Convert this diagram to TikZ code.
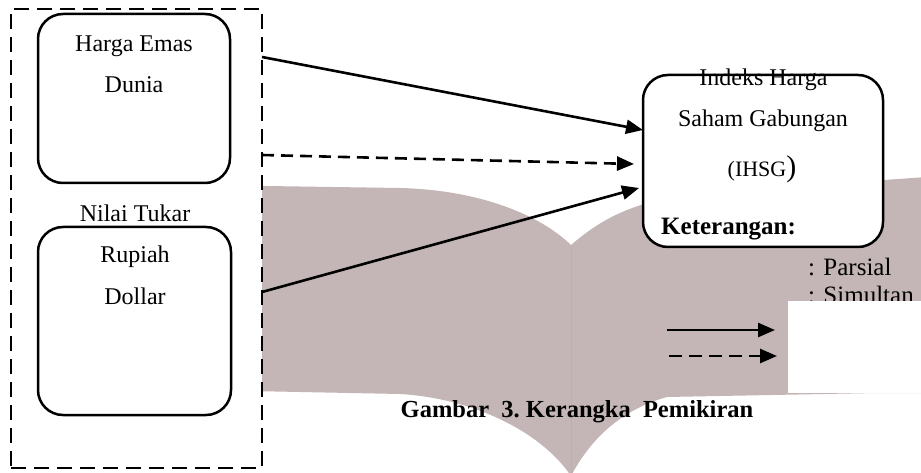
\documentclass[tikz,border=0pt]{standalone}
\usepackage{fontspec}
\setmainfont{Liberation Serif}
\usetikzlibrary{arrows.meta}
\definecolor{bookgrey}{RGB}{196,182,182}
\definecolor{spinegrey}{RGB}{190,176,176}
\begin{document}
\begin{tikzpicture}[x=1pt,y=-1pt,
  box/.style={draw, line width=2.5pt, rounded corners=25pt, fill=white, inner sep=0pt},
  txt/.style={inner sep=0pt, font=\fontsize{24}{28}\selectfont},
  boldtxt/.style={inner sep=0pt, font=\fontsize{25}{29}\selectfont\bfseries},
  conn/.style={line width=2.6pt, -{Triangle[length=17pt,width=14pt]}},
  dashconn/.style={conn, dash pattern=on 12pt off 7pt},
]
\useasboundingbox (0,0) rectangle (921,473);
% watermark book
\fill[bookgrey] (200,185) -- (400,188) .. controls (480,190) and (540,215) .. (571,245)
  .. controls (600,220) and (630,203) .. (690,194) -- (940,176) -- (940,393) -- (877,393)
  -- (667,397) .. controls (620,410) and (590,440) .. (571,476)
  .. controls (540,430) and (470,398) .. (400,394) -- (200,390) -- cycle;
\draw[spinegrey, line width=1pt] (571,246) -- (571,473);
% left group
\node[draw, line width=2.6pt, dash pattern=on 15pt off 8pt, fill=white,
  minimum width=251pt, minimum height=459pt, inner sep=0pt] (group) at (136.5,238.5) {};
\node[box, minimum width=192pt, minimum height=169pt] (emas) at (134,98.5) {};
\node[txt, anchor=base] (emas1) at (134,52) {Harga Emas};
\node[txt, anchor=base] (emas2) at (134,93) {Dunia};
\node[txt, anchor=base] (nilai) at (135,222) {Nilai Tukar};
\node[box, minimum width=193pt, minimum height=188pt] (kurs) at (134.5,321) {};
\node[txt, anchor=base] (kurs1) at (135,262) {Rupiah};
\node[txt, anchor=base] (kurs2) at (135,304) {Dollar};
% IHSG box
\node[box, minimum width=240pt, minimum height=172pt] (ihsg) at (763,161) {};
\node[txt, anchor=base] (ihsg1) at (763.5,86) {Indeks Harga};
\node[txt, anchor=base] (ihsg2) at (763,127) {Saham Gabungan};
\node[txt, anchor=base] (ihsg3) at (762,177) {{\fontsize{22}{24}\selectfont (IHSG}{\fontsize{30}{32}\selectfont )}};
\node[boldtxt, anchor=base west] (ket) at (661,235) {Keterangan:};
% connectors
\coordinate (s1) at (262,57);
\coordinate (s2) at (262,155);
\coordinate (s3) at (262,292);
\coordinate (t1) at (643,130);
\coordinate (t2) at (634,164);
\coordinate (t3) at (639,188);
\draw[conn] (s1) -- (t1);
\draw[dashconn] (s2) -- (t2);
\draw[conn] (s3) -- (t3);
% legend
\node[inner sep=0pt, font=\fontsize{25}{29}\selectfont, anchor=base west] (parsial) at (808,275) {: Parsial};
\node[inner sep=0pt, font=\fontsize{25}{29}\selectfont, anchor=base west] (simultan) at (808,303) {: Simultan};
\fill[white] (788,301) rectangle (925,393);
\coordinate (l1a) at (667,330);
\coordinate (l1b) at (775,330);
\coordinate (l2a) at (669,356);
\coordinate (l2b) at (777,356);
\draw[conn] (l1a) -- (l1b);
\draw[conn, dash pattern=on 13pt off 7pt] (l2a) -- (l2b);
% caption
\node[inner sep=0pt, font=\fontsize{24.5}{28}\selectfont\bfseries, anchor=base] (caption) at (577,417) {Gambar\ \ 3.\ Kerangka\ \ Pemikiran};
\end{tikzpicture}
\end{document}
